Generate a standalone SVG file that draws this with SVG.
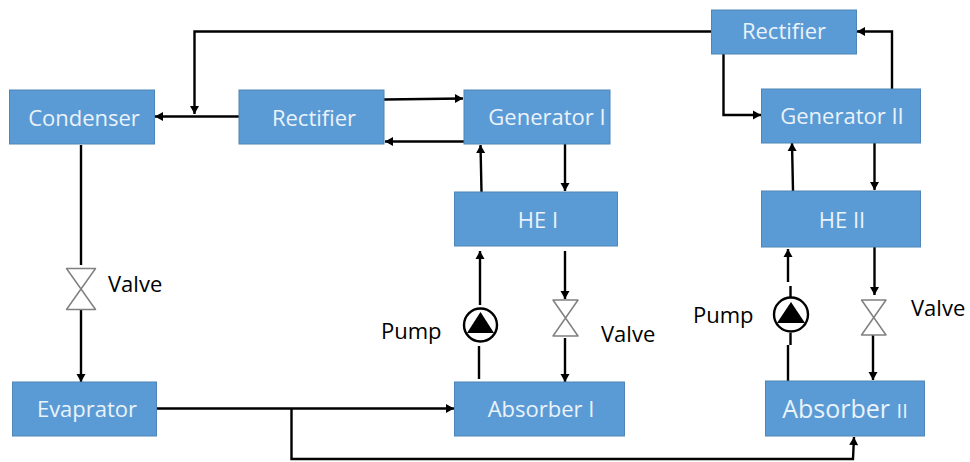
<svg xmlns="http://www.w3.org/2000/svg" width="970" height="462" viewBox="0 0 970 462">
<style>
.box{fill:#5b9bd5;stroke:#4f86b8;stroke-width:1}
.lab{font-family:"Open Sans","Noto Sans","Liberation Sans",sans-serif;font-size:22px;fill:#eaf2fa;text-anchor:middle}
.ext{font-family:"Open Sans","Noto Sans","Liberation Sans",sans-serif;font-size:22px;fill:#000}
.ln{fill:none;stroke:#000;stroke-width:2.4}
.v{fill:#fff;stroke:#808080;stroke-width:1.5;stroke-linejoin:round}
.pc{fill:#fff;stroke:#000;stroke-width:2.4}
</style>
<defs>
<marker id="a" markerUnits="userSpaceOnUse" markerWidth="10" markerHeight="10" refX="9" refY="5" orient="auto"><path d="M1 0.5L9 5L1 9.5Z" fill="#000"/></marker>
</defs>
<g id="connectors">
<path class="ln" marker-end="url(#a)" d="M239 116.500H155"/>
<path class="ln" marker-end="url(#a)" d="M711 31.500H194.500V114"/>
<path class="ln" marker-end="url(#a)" d="M384 99.500L463 98.500"/>
<path class="ln" marker-end="url(#a)" d="M464 141.500H385"/>
<path class="ln" marker-end="url(#a)" d="M481.500 192L480.500 145"/>
<path class="ln" marker-end="url(#a)" d="M565 144V191"/>
<path class="ln" marker-end="url(#a)" d="M723.500 51V115H761"/>
<path class="ln" marker-end="url(#a)" d="M892 89V31.500H857"/>
<path class="ln" marker-end="url(#a)" d="M793 191L792 143"/>
<path class="ln" marker-end="url(#a)" d="M874.500 143V190"/>
<path class="ln" d="M81 145V265"/>
<path class="ln" marker-end="url(#a)" d="M81 306V382"/>
<path class="ln" marker-end="url(#a)" d="M157 408.500H454"/>
<path class="ln" marker-end="url(#a)" d="M291.500 408.500V459H853L854 437"/>
<path class="ln" d="M479 379V346"/>
<path class="ln" marker-end="url(#a)" d="M480 305V251"/>
<path class="ln" marker-end="url(#a)" d="M565 251V299"/>
<path class="ln" marker-end="url(#a)" d="M565 338V382"/>
<path class="ln" d="M788 381V345"/>
<path class="ln" d="M790.500 345V333"/>
<path class="ln" marker-end="url(#a)" d="M788 282V249"/>
<path class="ln" d="M790.500 298V286"/>
<path class="ln" marker-end="url(#a)" d="M874.500 247V295"/>
<path class="ln" marker-end="url(#a)" d="M873 331V380"/>
</g>
<g id="condenser"><rect class="box" x="9.500" y="90" width="145" height="54"/><text class="lab" x="84" y="126">Condenser</text></g>
<g id="rectifier-1"><rect class="box" x="239" y="90" width="145" height="54"/><text class="lab" x="314" y="126">Rectifier</text></g>
<g id="generator-1"><rect class="box" x="464" y="90" width="146" height="54"/><text class="lab" x="547" y="125">Generator I</text></g>
<g id="rectifier-2"><rect class="box" x="711.500" y="10" width="145" height="44"/><text class="lab" x="784" y="39">Rectifier</text></g>
<g id="generator-2"><rect class="box" x="761.500" y="89" width="159" height="54"/><text class="lab" x="842" y="124">Generator II</text></g>
<g id="he-1"><rect class="box" x="454.500" y="192" width="163" height="54"/><text class="lab" x="538" y="228">HE I</text></g>
<g id="he-2"><rect class="box" x="761.500" y="191" width="159" height="56"/><text class="lab" x="842" y="228">HE II</text></g>
<g id="evaporator"><rect class="box" x="12.500" y="382" width="144" height="54"/><text class="lab" x="87" y="417">Evaprator</text></g>
<g id="absorber-1"><rect class="box" x="454.500" y="382" width="170" height="54"/><text class="lab" x="541" y="417">Absorber I</text></g>
<g id="absorber-2"><rect class="box" x="765.500" y="381" width="159" height="55"/><text class="lab" x="845" y="418"><tspan font-size="25">Absorber </tspan><tspan font-size="20">II</tspan></text></g>
<g id="valve-1"><path class="v" d="M66.500 268.500H95.500L66.500 309.500H95.500Z"/><text class="ext" x="108" y="292">Valve</text></g>
<g id="valve-2"><path class="v" d="M553 300H578L553 336H578Z"/><text class="ext" x="601" y="342">Valve</text></g>
<g id="valve-3"><path class="v" d="M861.500 300H886L861.500 335H886Z"/><text class="ext" x="911" y="316">Valve</text></g>
<g id="pump-1"><circle class="pc" cx="480.500" cy="325" r="16.500"/><path d="M480.500 312L494 333H467Z" fill="#000"/><text class="ext" x="381" y="339">Pump</text></g>
<g id="pump-2"><circle class="pc" cx="791" cy="314.500" r="17"/><path d="M791 302L805 323H777Z" fill="#000"/><text class="ext" x="693" y="323">Pump</text></g>
</svg>
